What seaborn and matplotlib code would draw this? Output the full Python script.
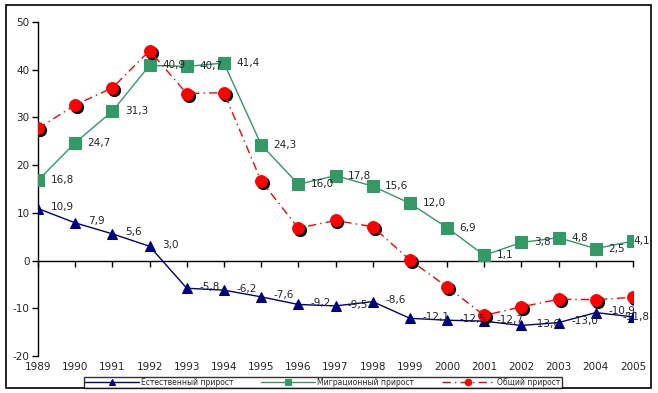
import numpy as np
import pandas as pd
import seaborn as sns
import matplotlib
matplotlib.use("Agg")
import matplotlib.pyplot as plt
import matplotlib.transforms as mtransforms
from matplotlib.patches import Rectangle

years = [1989, 1990, 1991, 1992, 1993, 1994, 1995, 1996, 1997, 1998,
         1999, 2000, 2001, 2002, 2003, 2004, 2005]
natural = [10.9, 7.9, 5.6, 3.0, -5.8, -6.2, -7.6, -9.2, -9.5, -8.6,
           -12.1, -12.5, -12.7, -13.6, -13.0, -10.9, -11.8]
migration = [16.8, 24.7, 31.3, 40.9, 40.7, 41.4, 24.3, 16.0, 17.8, 15.6,
             12.0, 6.9, 1.1, 3.8, 4.8, 2.5, 4.1]
total = [27.7, 32.6, 36.2, 44.0, 35.0, 35.2, 16.7, 6.8, 8.4, 7.1,
         0.1, -5.5, -11.5, -9.7, -8.1, -8.2, -7.7]
series_names = ["Естественный прирост", "Миграционный прирост", "Общий прирост"]
y_ticks = [-20, -10, 0, 10, 20, 30, 40, 50]

sns.set_style("white")
plt.rcParams["font.family"] = ["DejaVu Sans"]

W, H = 658, 393
fig = plt.figure(figsize=(W / 100, H / 100), dpi=100)
ax = fig.add_axes([38 / W, 1 - 356 / H, (633 - 38) / W, (356 - 22) / H])

df = pd.DataFrame({"year": years, "natural": natural,
                   "migration": migration, "total": total})

sns.lineplot(data=df, x="year", y="natural", ax=ax, color="#000080",
             linewidth=1, marker="^", markersize=7.5, markeredgecolor="#000080",
             label=series_names[0], zorder=3)
sns.lineplot(data=df, x="year", y="migration", ax=ax, color="#339966",
             linewidth=1, marker="s", markersize=8.7, markeredgecolor="#339966",
             label=series_names[1], zorder=4)
# shadow for red circles
shadow = mtransforms.offset_copy(ax.transData, fig=fig, x=1.4, y=-1.4, units="points")
ax.plot(df["year"], df["total"], linestyle="none", marker="o", markersize=8.5,
        color="black", transform=shadow, zorder=4.5)
sns.lineplot(data=df, x="year", y="total", ax=ax, color="#FF0000",
             linewidth=1, linestyle=(0, (6, 3, 1, 3)), marker="o", markersize=8.5,
             markeredgecolor="#FF0000", label=series_names[2], zorder=5)

def fmt(v):
    return f"{v:.1f}".replace(".", ",")

last = len(years) - 1
for i, (x, v) in enumerate(zip(years, natural)):
    if i == last:
        ax.annotate(fmt(v), (x, v), xytext=(12, 0), textcoords="offset points",
                    va="center", ha="right", fontsize=7.5, zorder=2.5)
    else:
        ax.annotate(fmt(v), (x, v), xytext=(9, 1), textcoords="offset points",
                    va="center", ha="left", fontsize=7.5, zorder=6)
for i, (x, v) in enumerate(zip(years, migration)):
    if i == last:
        ax.annotate(fmt(v), (x, v), xytext=(12, 0), textcoords="offset points",
                    va="center", ha="right", fontsize=7.5, zorder=6)
    else:
        ax.annotate(fmt(v), (x, v), xytext=(9, 0), textcoords="offset points",
                    va="center", ha="left", fontsize=7.5, zorder=6)

ax.set_xlim(years[0], years[-1])
ax.set_ylim(-20, 50)
ax.set_yticks(y_ticks)
ax.set_yticklabels([str(t) for t in y_ticks], fontsize=7.5)
ax.set_xticks(years)
ax.tick_params(axis="x", labelbottom=False, direction="out", length=4,
               width=1, color="black", bottom=True)
ax.tick_params(axis="y", direction="out", length=4, width=1, color="black",
               left=True, pad=2)
for s in ["top", "right"]:
    ax.spines[s].set_visible(False)
ax.spines["left"].set_color("black")
ax.spines["left"].set_linewidth(1)
ax.spines["bottom"].set_position(("data", 0))
ax.spines["bottom"].set_color("black")
ax.spines["bottom"].set_linewidth(1)
ax.set_xlabel("")
ax.set_ylabel("")

sec = ax.secondary_xaxis(0)
sec.set_xticks(years)
sec.set_xticklabels([str(y) for y in years], fontsize=7.5)
sec.tick_params(length=0, pad=4)
sec.spines["bottom"].set_visible(False)

ax.get_legend().remove()
handles, labels = ax.get_legend_handles_labels()
leg = fig.legend(handles[:3], labels[:3], loc="center", ncol=3, mode="expand",
                 bbox_to_anchor=(84 / W, 1 - 388 / H, (562 - 84) / W, 11 / H),
                 fontsize=5.5, frameon=True, fancybox=False, handlelength=7,
                 markerscale=0.55, borderpad=0.15, handletextpad=0.3,
                 borderaxespad=0)
leg.get_frame().set_edgecolor("black")
leg.get_frame().set_linewidth(1)

fig.patches.append(Rectangle((6 / W, 1 - 388 / H), (651 - 6) / W, (388 - 5) / H,
                             transform=fig.transFigure, fill=False,
                             edgecolor="black", linewidth=1.2, zorder=0))

fig.savefig("out.png", dpi=100)
